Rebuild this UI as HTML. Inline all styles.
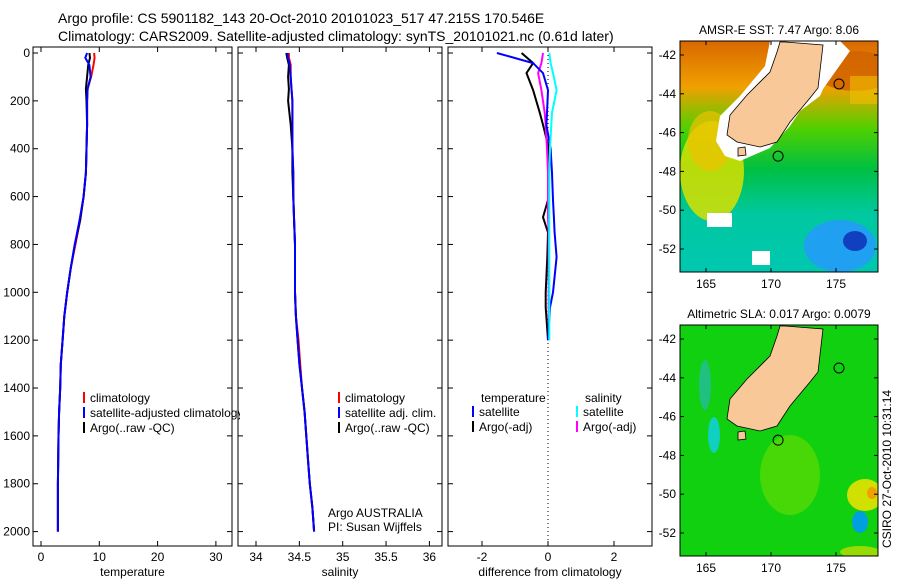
<!DOCTYPE html>
<html><head><meta charset="utf-8"><style>
body{margin:0;background:#fff}
svg text{font-family:"Liberation Sans",sans-serif;font-size:12px;fill:#000}
svg text.ttl{font-size:14px}
</style></head><body>
<svg id="c" width="900" height="580" xmlns="http://www.w3.org/2000/svg">
<text class="ttl" x="58" y="23">Argo profile: CS 5901182_143 20-Oct-2010 20101023_517 47.215S 170.546E</text>
<text class="ttl" x="58" y="41">Climatology: CARS2009. Satellite-adjusted climatology: synTS_20101021.nc (0.61d later)</text>
<g id="plots"></g>
</svg>
<script>
const depths=[0,20,50,100,150,200,300,400,500,600,700,800,900,1000,1100,1200,1300,1400,1500,1600,1700,1800,1900,2000];
const tempArgo=[8.3,8.4,8.1,7.9,7.7,7.8,7.9,7.8,7.7,7.3,6.7,5.8,5.1,4.5,4.0,3.7,3.4,3.3,3.1,3.0,2.95,2.9,2.9,2.9];
const tempClim=[9.1,9.2,9.0,8.6,8.0,7.9,7.9,7.8,7.7,7.3,6.7,5.9,5.1,4.5,4.0,3.7,3.4,3.3,3.1,3.0,2.95,2.9,2.9,2.9];
const tempSat=[7.9,7.6,8.3,8.5,8.0,7.9,7.9,7.8,7.7,7.3,6.6,5.8,5.1,4.5,4.0,3.7,3.4,3.3,3.1,3.0,2.95,2.9,2.9,2.9];
const salArgo=[34.35,34.36,34.38,34.37,34.38,34.37,34.4,34.42,34.42,34.43,34.44,34.45,34.45,34.45,34.46,34.48,34.5,34.53,34.56,34.58,34.6,34.62,34.65,34.67];
const salClim=[34.38,34.38,34.4,34.4,34.41,34.42,34.42,34.42,34.43,34.43,34.44,34.45,34.45,34.45,34.46,34.49,34.51,34.53,34.56,34.58,34.6,34.62,34.65,34.67];
const salSat=[34.36,34.37,34.39,34.4,34.41,34.42,34.42,34.42,34.43,34.43,34.44,34.45,34.45,34.45,34.46,34.48,34.5,34.53,34.56,34.58,34.6,34.62,34.65,34.67];
const diffDepths=[0,42,84,155,250,300,400,500,615,686,750,853,1000,1063,1200];
const dTempSat=[-1.55,-0.45,-0.15,0,-0.03,-0.05,0.08,0.12,0.15,0.18,0.2,0.26,0.15,0.06,0];
const dTempArgo=[-0.8,-0.45,-0.65,-0.45,-0.25,-0.15,0.03,0.02,0,-0.15,0,-0.02,-0.07,-0.07,0];
const dSalSat=[0.04,0.08,0.15,0.26,0.12,0.1,0.06,0.04,0.04,0.04,0.04,0.04,0.04,0.04,0.04];
const dSalArgo=[-0.15,-0.2,-0.3,-0.2,-0.1,-0.07,-0.03,0,0,0,0.02,0.02,0.02,0.02,0.02];
const depthTicks=[0,200,400,600,800,1000,1200,1400,1600,1800,2000];
const tempTicks=[0,10,20,30];
const salTicks=[34,34.5,35,35.5,36];
const diffTicks=[-2,0,2];

const NS='http://www.w3.org/2000/svg';
const root=document.getElementById('plots');
function mk(t,a,p){const e=document.createElementNS(NS,t);for(const k in a)e.setAttribute(k,a[k]);(p||root).appendChild(e);return e;}
const yD=d=>53+d*0.2393;
const yTop=47,yBot=546;
function panel(name,x0,x1,xs,ticks,label,showY){
  const g=mk('g',{});
  
  
  const fr=mk('rect',{x:x0,y:yTop,width:x1-x0,height:yBot-yTop,fill:'none',stroke:'#000','stroke-width':1},g);
  
  
  ticks.forEach(v=>{const x=xs(v);
    mk('line',{x1:x,x2:x,y1:yBot,y2:yBot-5,stroke:'#000'},g);
    mk('line',{x1:x,x2:x,y1:yTop,y2:yTop+5,stroke:'#000'},g);
    const t=mk('text',{x:x,y:yBot+15,'text-anchor':'middle'},g);t.textContent=v;
    
    
  });
  depthTicks.forEach(d=>{const y=yD(d);
    mk('line',{x1:x0,x2:x0+5,y1:y,y2:y,stroke:'#000'},g);
    mk('line',{x1:x1,x2:x1-5,y1:y,y2:y,stroke:'#000'},g);
    if(showY){const t=mk('text',{x:x0-3,y:y+4,'text-anchor':'end'},g);t.textContent=d;
      
      }
  });
  const l=mk('text',{x:(x0+x1)/2,y:yBot+30,'text-anchor':'middle'},g);l.textContent=label;
  
  
  return g;
}
function line(g,xs,ds,vals,color,w,name){
  const pts=vals.map((v,i)=>xs(v).toFixed(1)+','+yD(ds[i]).toFixed(1)).join(' ');
  const p=mk('polyline',{points:pts,fill:'none',stroke:color,'stroke-width':w},g);
  
  
}
function leg(g,x,y,color,text){
  mk('line',{x1:x,x2:x,y1:y-10,y2:y+1,stroke:color,'stroke-width':2},g);
  const t=mk('text',{x:x+6,y:y},g);t.textContent=text;
  
  
}
// temperature
const xT=v=>41+v*5.83;
const g1=panel('temperature-panel',33,232,xT,tempTicks,'temperature',true);
line(g1,xT,depths,tempClim,'#f00',2,'temp-climatology-line');
line(g1,xT,depths,tempArgo,'#000',2,'temp-argo-line');
line(g1,xT,depths,tempSat,'#00f',2,'temp-satellite-line');
const lg1=mk('svg',{x:0,y:0,width:240,height:580,overflow:'hidden'},g1);
leg(lg1,84,402,'#f00','climatology');leg(lg1,84,417,'#00f','satellite-adjusted climatology');leg(lg1,84,432,'#000','Argo(..raw -QC)');
// salinity
const xS=v=>256+(v-34)*86.7;
const g2=panel('salinity-panel',238,442,xS,salTicks,'salinity',false);
line(g2,xS,depths,salClim,'#f00',2,'sal-climatology-line');
line(g2,xS,depths,salArgo,'#000',2,'sal-argo-line');
line(g2,xS,depths,salSat,'#00f',2,'sal-satellite-line');
leg(g2,339,402,'#f00','climatology');leg(g2,339,417,'#00f','satellite adj. clim.');leg(g2,339,432,'#000','Argo(..raw -QC)');
const a1=mk('text',{x:328,y:517},g2);a1.textContent='Argo AUSTRALIA';


const a2=mk('text',{x:328,y:531},g2);a2.textContent='PI: Susan Wijffels';


// diff
const xF=v=>548+v*33;
const g3=panel('difference-panel',448,652,xF,diffTicks,'difference from climatology',false);
mk('line',{x1:548,x2:548,y1:yTop,y2:yBot,stroke:'#000','stroke-dasharray':'1,3'},g3);
line(g3,xF,diffDepths,dTempArgo,'#000',2,'diff-temp-argo-line');
line(g3,xF,diffDepths,dSalArgo,'#f0f',2,'diff-sal-argo-line');
line(g3,xF,diffDepths,dTempSat,'#00f',2,'diff-temp-satellite-line');
line(g3,xF,diffDepths,dSalSat,'#0ff',2,'diff-sal-satellite-line');
const h1=mk('text',{x:481,y:402},g3);h1.textContent='temperature';
const h2=mk('text',{x:585,y:402},g3);h2.textContent='salinity';
leg(g3,473,416,'#00f','satellite');leg(g3,473,431,'#000','Argo(-adj)');
leg(g3,577,416,'#0ff','satellite');leg(g3,577,431,'#f0f','Argo(-adj)');

// maps
const lonX=l=>706+(l-165)*13;
function map(name,oy,title,sst){
  const g=mk('g',{});
  
  
  const latY=l=>oy+55+(-42-l)*19.4;
  const X0=680,X1=878,Y0=oy+41,Y1=oy+272;
  const id=name+'c';
  const cp=mk('clipPath',{id:id},g);mk('rect',{x:X0,y:Y0,width:X1-X0,height:Y1-Y0},cp);
  const m=mk('g',{'clip-path':'url(#'+id+')'},g);
  const defs=mk('defs',{},g);
  if(sst){
    const lg=mk('linearGradient',{id:'sg',x1:0,y1:0,x2:0,y2:1},defs);
    [['0','#d86800'],['0.2','#f0a000'],['0.38','#50d000'],['0.55','#00c040'],['0.75','#00c8a0'],['1','#00c8b0']].forEach(s=>mk('stop',{offset:s[0],'stop-color':s[1]},lg));
    mk('rect',{x:X0,y:Y0,width:198,height:231,fill:'url(#sg)'},m);
    mk('ellipse',{cx:712,cy:Y0+130,rx:32,ry:50,fill:'#d8e000',opacity:0.85},m);
    mk('ellipse',{cx:710,cy:Y0+100,rx:22,ry:30,fill:'#f0c000',opacity:0.7},m);
    mk('ellipse',{cx:840,cy:Y0+205,rx:36,ry:26,fill:'#20a0f0'},m);
    mk('ellipse',{cx:855,cy:Y0+200,rx:12,ry:10,fill:'#1040c0'},m);
    mk('ellipse',{cx:855,cy:Y0+30,rx:40,ry:20,fill:'#d06000',opacity:0.8},m);
    mk('rect',{x:850,y:Y0+35,width:28,height:28,fill:'#f0c000',opacity:0.6},m);
    mk('polygon',{points:'770,'+Y0+' 840,'+Y0+' 850,'+(Y0+10)+' 823,'+(Y0+48)+' 820,'+(Y0+55)+' 800,'+(Y0+70)+' 790,'+(Y0+85)+' 770,'+(Y0+107)+' 740,'+(Y0+120)+' 725,'+(Y0+115)+' 716,'+(Y0+100)+' 720,'+(Y0+75)+' 740,'+(Y0+55)+' 765,'+(Y0+25),fill:'#fff'},m);
    mk('rect',{x:707,y:Y0+172,width:25,height:14,fill:'#fff'},m);
    mk('rect',{x:752,y:Y0+210,width:18,height:14,fill:'#fff'},m);
  } else {
    mk('rect',{x:X0,y:Y0,width:198,height:231,fill:'#10d010'},m);
    mk('ellipse',{cx:705,cy:Y0+60,rx:6,ry:25,fill:'#20c080'},m);
    mk('ellipse',{cx:714,cy:Y0+110,rx:6,ry:18,fill:'#10d0c0'},m);
    mk('ellipse',{cx:790,cy:Y0+150,rx:30,ry:40,fill:'#80e000',opacity:0.5},m);
    mk('ellipse',{cx:865,cy:Y0+170,rx:18,ry:16,fill:'#d0e000'},m);
    mk('ellipse',{cx:872,cy:Y0+168,rx:5,ry:6,fill:'#f0a000'},m);
    mk('ellipse',{cx:860,cy:Y0+197,rx:8,ry:11,fill:'#00a0e0'},m);
    mk('ellipse',{cx:860,cy:Y0+227,rx:20,ry:6,fill:'#d0e000',opacity:0.7},m);
  }
  const land=[[780,42],[785,42],[823,45],[818,88],[810,98],[790,122],[777,142],[760,147],[737,142],[727,135],[730,115],[747,95],[770,72],[777,52]];
  const lp=mk('polygon',{points:land.map(p=>p[0]+','+(p[1]+oy)).join(' '),fill:'#f8c898',stroke:'#000','stroke-width':0.8},m);
  
  
  mk('polygon',{points:'738,'+(148+oy)+' 745,'+(147+oy)+' 746,'+(155+oy)+' 738,'+(156+oy),fill:'#f8c898',stroke:'#000','stroke-width':0.8},m);
  const pc=mk('circle',{cx:lonX(170.546),cy:latY(-47.215),r:5,fill:'none',stroke:'#000'},m);
  
  
  mk('circle',{cx:839,cy:oy+84,r:5,fill:'none',stroke:'#000'},m);
  mk('rect',{x:X0,y:Y0,width:X1-X0,height:Y1-Y0,fill:'none',stroke:'#000'},g);
  [165,170,175].forEach(l=>{const x=lonX(l);
    mk('line',{x1:x,x2:x,y1:Y1,y2:Y1-4,stroke:'#000'},g);mk('line',{x1:x,x2:x,y1:Y0,y2:Y0+4,stroke:'#000'},g);
    const t=mk('text',{x:x,y:Y1+16,'text-anchor':'middle'},g);t.textContent=l;
    
    });
  [-42,-44,-46,-48,-50,-52].forEach(l=>{const y=latY(l);
    mk('line',{x1:X0,x2:X0+4,y1:y,y2:y,stroke:'#000'},g);mk('line',{x1:X1,x2:X1-4,y1:y,y2:y,stroke:'#000'},g);
    const t=mk('text',{x:X0-4,y:y+4,'text-anchor':'end'},g);t.textContent=l;
    
    });
  const tt=mk('text',{x:779,y:oy+34,'text-anchor':'middle'},g);tt.textContent=title;
  
  
}
map('sst-map',0,'AMSR-E SST: 7.47 Argo: 8.06',true);
map('sla-map',284,'Altimetric SLA: 0.017 Argo: 0.0079',false);
const cs=mk('text',{x:0,y:0,transform:'translate(891,548) rotate(-90)'});
cs.textContent='CSIRO 27-Oct-2010 10:31:14';


</script>
</body></html>
